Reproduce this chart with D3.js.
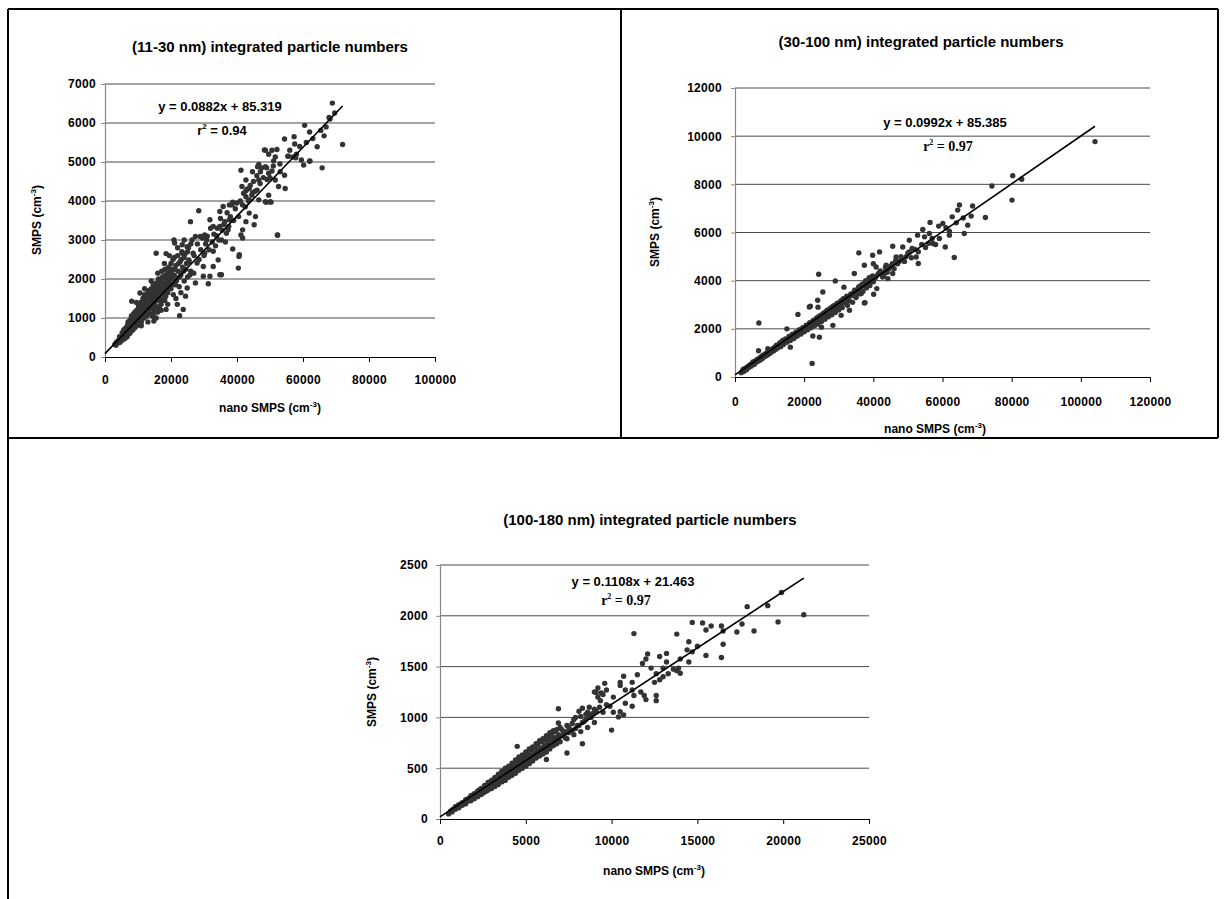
<!DOCTYPE html>
<html>
<head>
<meta charset="utf-8">
<script src="https://cdn.jsdelivr.net/npm/d3@7"></script>
<style>
  body { margin: 0; background: #fff; }
  text { font-family: "Liberation Sans", Arial, sans-serif; font-weight: bold; fill: #000; }
</style>
</head>
<body>
<svg id="chart" width="1225" height="899"></svg>
<script>
// ---- data ----
const titles = [
  "(11-30 nm) integrated particle numbers",
  "(30-100 nm) integrated particle numbers",
  "(100-180 nm) integrated particle numbers"
];
const equations = ["y = 0.0882x + 85.319", "y = 0.0992x + 85.385", "y = 0.1108x + 21.463"];
const slopes = [0.0882, 0.0992, 0.1108];
const intercepts = [85.319, 85.385, 21.463];
const rSquared = ["0.94", "0.97", "0.97"];

const xTicks1 = [0, 20000, 40000, 60000, 80000, 100000];
const yTicks1 = [0, 1000, 2000, 3000, 4000, 5000, 6000, 7000];
const xTicks2 = [0, 20000, 40000, 60000, 80000, 100000, 120000];
const yTicks2 = [0, 2000, 4000, 6000, 8000, 10000, 12000];
const xTicks3 = [0, 5000, 10000, 15000, 20000, 25000];
const yTicks3 = [0, 500, 1000, 1500, 2000, 2500];

// (11-30 nm): [nano SMPS, SMPS]
const points1 = [
  [68900,6510],[69600,6255],[67900,6140],[68200,6100],[72000,5450],[60500,5940],[62000,5770],[65400,5810],
  [66400,5670],[64300,5390],[65800,4850],[62000,5020],[60200,4920],[59500,5050],[57300,5650],[54400,5590],
  [57500,5460],[57000,5130],[54600,4320],[52600,4370],[55600,5150],[52300,3130],[48600,5300],[50600,5300],
  [52100,5320],[51600,5130],[49600,5200],[51100,5030],[48600,4880],[46600,4940],[44700,4750],[47100,4750],
  [50600,4770],[53100,4750],[54400,4660],[49600,4710],[51600,4540],[49100,4550],[46600,4540],[41200,4790],
  [42700,4540],[41500,4370],[42700,4260],[43700,4320],[44700,4210],[46100,4280],[42700,4110],[43700,4030],
  [46600,4030],[48600,3980],[50100,3980],[49600,4150],[41700,3900],[38700,3970],[37700,3900],[35800,3860],
  [34800,3730],[28400,3750],[43700,3690],[42700,3470],[45200,3390],[41700,3260],[41200,3130],[41700,3050],
  [38700,2770],[40700,2620],[40400,2280],[37300,3260],[37700,3520],[36300,3470],[34800,3350],[36800,3170],
  [35300,3000],[33800,3110],[31800,3520],[32800,3350],[30200,3130],[30800,3000],[28900,3090],[27400,3090],
  [25900,3470],[26400,3000],[24900,2830],[23400,2880],[20900,3000],[21100,2920],[18500,2650],[15500,2660],
  [23400,2660],[26700,2660],[30200,2660],[32800,2710],[34300,2490],[32800,2320],[29800,2320],[27900,2410],
  [25400,2490],[26900,2150],[29800,2070],[31800,2070],[34800,2110],[35300,2110],[31300,1880],[27400,1900],
  [24900,1770],[24400,1560],[21900,1350],[23700,1220],[22600,1060],[18500,1220],[16000,1220],[17000,1350],
  [14500,1090],[15500,1000],[14800,920],[8100,1430],[10600,1640],
  [48300,5310],[55400,5150],[57800,5110],[62100,5030],[46250,4880],[48900,3970],[50300,3970],[45600,3600],
  [40600,2580],[52250,3120],
  [27000,2600],[28000,2900],[28500,2500],[29000,2750],[29500,3050],[30000,2600],[30500,2900],[31000,3100],
  [31500,2750],[32000,3300],[32500,2950],[33000,3150],[33500,2850],[34000,3300],[34500,3000],[35000,3550],
  [35500,3250],[36000,3400],[36500,2950],[37000,3700],[37500,3350],[38000,3600],[38500,3900],[39000,3500],
  [39500,3800],[40000,3950],[40500,3600],[41000,4000],[42000,4200],[42500,3850],[43000,4300],[43500,4000],
  [44000,4400],[44500,4150],[45000,4500],[45500,4250],[46000,4650],[47000,4450],[47500,4850],[48000,4600],
  [49000,4850],[50000,4600],[51000,4900],[53000,4950],[56000,5300],[58000,5200],[59000,5400],[61000,5500],
  [63000,5600],[67000,5900],
  [3000,330],[3500,380],[3800,350],[4000,420],[4200,400],[4500,460],[4800,430],[5000,520],[5200,480],
  [5500,560],[5600,470],[5800,600],[6000,540],[6200,650],[6300,580],[6500,700],[6600,620],[6800,560],
  [7000,750],[7000,900],[7200,680],[7400,820],[7500,600],[7600,950],[7800,720],[8000,850],[8000,1050],
  [8200,780],[8400,920],[8500,700],[8600,1100],[8800,830],[9000,960],[9000,1150],[9200,760],[9400,1050],
  [9500,880],[9500,1400],[9600,1200],[9800,980],[10000,1100],[10000,820],[10200,1300],[10300,940],[10500,1200],
  [10600,1050],[10800,1400],[11000,900],[11000,800],[11000,1150],[11200,1300],[11400,1050],[11500,1500],
  [11600,1250],[11800,1000],[12000,1350],[12000,1600],[12000,1750],[12200,1150],[12400,1450],[12500,1280],
  [12600,1050],[12800,1550],[13000,1350],[13000,1700],[13000,900],[13200,1200],[13400,1450],[13500,1620],
  [13600,1100],[13800,1300],[14000,1500],[14000,1750],[14000,1950],[14200,1250],[14400,1600],[14500,1400],
  [14600,1850],[14800,1150],[15000,1550],[15000,1350],[15000,1000],[15200,1700],[15400,1480],[15500,1900],
  [15600,1250],[15800,1650],[16000,1450],[16000,1800],[16000,2150],[16200,2000],[16400,1550],[16500,1300],
  [16700,1750],[17000,1600],[17000,1950],[17000,1200],[17200,2200],[17300,1450],[17500,1800],[17800,2050],
  [18000,1650],[18000,1900],[18000,2400],[18200,2250],[18400,1550],[18600,2000],[18800,1800],[19000,2150],
  [19000,1650],[19000,1350],[19300,2300],[19500,1900],[19500,2600],[19800,2100],[20000,1750],[20000,2400],
  [20300,2000],[20500,2250],[20700,1600],[21000,2100],[21000,2550],[21300,1850],[21500,2350],[21500,1500],
  [21800,2000],[22000,2600],[22000,2800],[22200,2200],[22500,1800],[22800,2450],[23000,2100],[23000,1650],
  [23300,2700],[23500,2300],[24000,1950],[24000,2550],[24000,3000],[24500,2250],[25000,2700],[25000,2050],
  [25500,2450],[26000,2200],[26000,2900],
  [3300,300],[4400,520],[4600,380],[5200,620],[5400,440],[5700,700],[6100,480],[6400,760],[6700,520],
  [6900,830],[7300,620],[7700,860],[7900,660],[8300,980],[8700,760],[8900,1020],[9300,900],[9700,1100],
  [9900,860],[10100,1200],[10400,1000],[10700,1300],[10900,1000],[11300,1400],[11700,1150],[11900,1300],
  [12300,1050],[12700,1400],[12900,1200],[13300,1550],[13700,1350],[13900,1600],[14300,1050],[14700,1700],
  [14900,1300],[15300,1800],[15700,1500],[15900,1150],[16300,1700],[16600,1900],[16900,1500],[17400,2050],
  [17700,1700],[18100,1450],[18300,2100],[18700,1900],[19100,2000],[19400,1750],[19700,2250],[20100,2150],
  [20400,1850],[20600,2500],[21200,2250],[21600,1950],[22300,2400],[22600,2050],[23100,2500],[23800,2200],
  [24300,2650],[24700,2400],[25300,2800],[25700,2100]
];

// (30-100 nm)
const points2 = [
  [104100,9775],[80300,8360],[82900,8210],[80100,7345],[74300,7930],[72400,6625],[68700,7100],[68300,6680],
  [67300,6305],[66300,5960],[64900,7140],[64400,6930],[62800,6650],[62000,5890],[63400,4960],[60800,5400],
  [60100,6375],[58900,6265],[56400,6420],[57200,5545],[55100,5380],[54800,5820],[52800,5890],[53000,4710],
  [51200,5335],[50400,5680],[48500,5400],[45600,5430],[46600,4985],[43700,4640],[41800,5195],[39800,5055],
  [35800,5155],[37400,4640],[40800,4570],[42700,4155],[45600,4295],[37700,3880],[37600,3090],[36500,3465],
  [34500,4295],[29000,3990],[24200,4265],[23900,3185],[25400,3530],[21500,2905],[24400,1655],[22500,1700],
  [6900,2240],[22300,565],[56200,5960],[54300,6125],[50400,5195],[52400,4985],[59100,5750],[28300,2145],
  [30700,2560],[33100,2770],[37400,3070],[40100,3435],[44200,4085],[18200,2600],[21800,2935],[6800,1090],
  [1800,180],[2200,260],[2600,240],[3000,350],[3300,300],[3600,420],[4000,390],[4300,500],[4600,450],
  [5000,560],[5200,620],[5500,520],[5800,660],[6000,600],[6300,720],[6600,650],[7000,780],[7200,700],
  [7500,820],[7800,760],[8000,900],[8300,820],[8600,940],[8900,870],[9200,1000],[9500,1170],[9500,920],
  [9800,1050],[10000,980],[10300,1120],[10600,1040],[11000,1180],[11200,1090],[11500,1240],[11800,1150],
  [12000,1320],[12300,1200],[12600,1290],[13000,1420],[13200,1260],[13500,1380],[13800,1520],[14000,1350],
  [14300,1460],[14600,1580],[15000,1440],[15000,2000],[15300,1560],[15600,1680],[16000,1240],[16000,1520],
  [16300,1640],[16600,1780],[17000,1600],[17300,1720],[17600,1860],[18000,1700],[18300,1820],[18600,1960],
  [19000,1780],[19300,1900],[19600,2050],[20000,1880],[20300,2000],[20600,2150],[21000,1960],[21300,2080],
  [21600,2250],[22000,2050],[22300,2180],[22600,2350],[23000,2130],[23300,2270],[23600,2450],[24000,2200],
  [24000,2900],[24300,2380],[24600,2550],[25000,2070],[25000,2300],[25300,2480],[25600,2650],[26000,2400],
  [26300,2580],[26600,2760],[27000,2500],[27300,2680],[27600,2860],[28000,2580],[28300,2780],[28600,2960],
  [29000,2680],[29300,2880],[29600,3060],[30000,2780],[30300,2980],[30600,3160],[31000,2880],[31500,3730],
  [31500,3080],[32000,3260],[32500,2980],[33000,3180],[33300,3380],[34000,3100],[34300,3500],[35000,3300],
  [35500,3650],[36000,3450],[36500,3800],[37000,3550],[37500,3900],[38000,3700],[38500,4000],[39000,3800],
  [39500,4150],[40000,3950],[40000,4700],[41000,3670],[41000,4200],[42000,4400],[43000,4200],[43500,4550],
  [44000,4350],[45000,4600],[46000,4500],[46500,4850],[47000,4700],[48000,5000],[49000,4800],[50000,5150],
  [51000,4950],[52000,5300],[53000,5200],[54000,5500],[56000,5550],[57000,5750],[58000,5500],[61000,6200],
  [62000,6050],[64000,6400],[66000,6600],
  [2400,320],[2800,300],[3200,380],[3800,440],[4400,470],[4800,540],[5400,590],[5600,610],[6200,640],
  [6400,700],[6800,740],[7400,760],[7600,840],[8200,880],[8800,960],[9000,900],[9400,1010],[9600,980],
  [10400,1080],[10800,1140],[11300,1200],[11700,1220],[12200,1280],[12800,1350],[13300,1340],[13600,1460],
  [14100,1420],[14500,1500],[14800,1520],[15200,1480],[15800,1600],[16200,1700],[16800,1700],[17200,1650],
  [17800,1800],[18200,1760],[18800,1880],[19200,1850],[19800,2000],[20200,1950],[20800,2100],[21200,2050],
  [21800,2160],[22200,2250],[22800,2280],[23200,2380],[23800,2350],[24200,2500],[24800,2460],[25200,2600],
  [25800,2560],[26200,2700],[26800,2650],[27200,2800],[27800,2750],[28200,2920],[28800,2860],[29200,3000],
  [29800,2960],[30400,3100],[30800,3040],[31300,3250],[31800,3160],[32300,3350],[32800,3300],[33500,3450],
  [34000,3380],[34600,3600],[35200,3520],[35800,3750],[36300,3620],[36800,3850],[37300,3780],[37800,4000],
  [38300,3880],[38800,4120],[39300,3980],[39800,4200],[40500,4100],[41500,4300],[42500,4250],[43200,4350],
  [44500,4500],[45500,4700],[47500,4800],[49500,5000]
];

// (100-180 nm)
const points3 = [
  [21200,2010],[19900,2230],[19700,1940],[19100,2100],[17900,2090],[17600,1920],[17300,1840],[18300,1850],
  [16400,1900],[16500,1850],[16500,1720],[16400,1590],[15500,1610],[15800,1900],[15500,1860],[15300,1930],
  [14700,1935],[15000,1700],[14700,1645],[14400,1665],[14500,1745],[13800,1820],[11300,1825],[14500,1545],
  [14000,1575],[13900,1485],[14000,1435],[13800,1460],[13600,1475],[13200,1630],[12800,1600],[13200,1545],
  [13000,1485],[13300,1430],[13000,1400],[12800,1370],[12500,1345],[12600,1430],[12300,1485],[12100,1625],
  [12000,1575],[11800,1530],[11500,1420],[11200,1345],[10700,1405],[10500,1345],[10500,1315],[10800,1270],
  [11200,1270],[11700,1250],[11900,1215],[12600,1215],[12600,1165],[12000,1175],[11300,1215],[11200,1110],
  [10800,1140],[10500,1055],[10700,1025],[10400,1005],[10100,1050],[9900,1110],[9700,1125],[10100,1200],
  [9600,1335],[9200,1290],[9400,1240],[9000,1250],[9200,1200],[9700,1270],[6900,1085],[10000,875],
  [8300,740],[7400,650],[6900,945],[4500,715],[9350,1165],[9100,1245],[9500,1225],[6200,585],
  [500,50],[600,75],[700,70],[800,100],[900,95],[1000,125],[1100,110],[1200,145],[1300,135],[1400,165],
  [1500,150],[1500,190],[1600,175],[1700,205],[1800,180],[1800,230],[1900,210],[2000,250],[2000,200],
  [2100,235],[2200,275],[2200,220],[2300,260],[2400,300],[2400,240],[2500,280],[2600,330],[2600,265],
  [2700,300],[2800,360],[2800,285],[2900,330],[3000,380],[3000,300],[3100,350],[3200,410],[3200,320],
  [3300,370],[3400,440],[3400,340],[3500,400],[3600,470],[3600,365],[3700,420],[3800,500],[3800,380],
  [3900,450],[4000,520],[4000,410],[4100,470],[4200,550],[4200,430],[4300,500],[4400,580],[4400,450],
  [4500,520],[4600,610],[4600,480],[4700,550],[4800,630],[4800,500],[4900,580],[5000,660],[5000,520],
  [5100,600],[5200,690],[5200,545],[5300,630],[5400,710],[5400,570],[5500,650],[5600,740],[5600,600],
  [5700,680],[5800,770],[5800,620],[5900,700],[6000,790],[6000,640],[6100,730],[6200,820],[6200,660],
  [6300,750],[6400,850],[6400,690],[6500,780],[6600,870],[6600,720],[6700,800],[6800,880],[6800,740],
  [6900,830],[7000,900],[7000,760],[7200,850],[7400,920],[7400,790],[7600,880],[7800,980],[7800,830],
  [8000,920],[8200,1010],[8200,860],[8400,960],[8600,1050],[8600,900],[8800,1000],[9000,1080],[9000,950],
  [700,90],[900,120],[1100,140],[1300,160],[1600,195],[1700,185],[1900,235],[2100,255],[2300,240],[2300,285],
  [2500,300],[2500,255],[2700,330],[2700,275],[2900,300],[2900,360],[3100,325],[3100,385],[3300,345],[3300,400],
  [3500,375],[3500,430],[3700,395],[3700,455],[3900,420],[3900,490],[4100,440],[4100,510],[4300,470],[4300,540],
  [4500,490],[4500,560],[4700,510],[4700,590],[4900,540],[4900,610],[5100,560],[5100,640],[5300,590],[5300,680],
  [5500,610],[5500,700],[5700,630],[5700,730],[5900,660],[5900,760],[6100,690],[6100,780],[6300,710],[6300,800],
  [6500,730],[6500,830],[6700,750],[6700,860],[6900,780],[6900,800],[7100,820],[7100,880],[7300,800],[7300,860],
  [7500,850],[7500,900],[7700,870],[7700,940],[7900,890],[7900,1000],[8100,920],[8100,1060],[8300,950],[8300,1090],
  [8500,980],[8500,1030],[8700,1020],[8700,1100],[8900,1040],[9100,1060],[9300,1100],[9500,1050]
];

// ---- layout (pixels) ----
const panels = [
  { pts: points1, xt: xTicks1, yt: yTicks1, left: 105, right: 435, bottom: 357, top: 84,
    titleX: 270, titleY: 52, eqX: 220, eqY: 111, r2X: 222, r2Y: 135, r2Serif: false, xPad: 13.5, yPad: 5,
    xTitleX: 270, xTitleY: 412, yTitleX: 41, yTitleY: 220 },
  { pts: points2, xt: xTicks2, yt: yTicks2, left: 735, right: 1150, bottom: 377, top: 88,
    titleX: 921, titleY: 47, eqX: 945, eqY: 127, r2X: 948, r2Y: 151, r2Serif: true, xPad: 15.5, yPad: 9,
    xTitleX: 935, xTitleY: 433, yTitleX: 659, yTitleY: 232 },
  { pts: points3, xt: xTicks3, yt: yTicks3, left: 440, right: 869, bottom: 819, top: 565,
    titleX: 650, titleY: 525, eqX: 633, eqY: 586, r2X: 626, r2Y: 605, r2Serif: true, xPad: 12.5, yPad: 8,
    xTitleX: 654, xTitleY: 875, yTitleX: 376, yTitleY: 692 }
];

const svg = d3.select("#chart");

// frame lines
const frame = svg.append("g").attr("stroke", "#000").attr("stroke-width", 2);
frame.append("line").attr("x1", 8).attr("y1", 9).attr("x2", 1218).attr("y2", 9);
frame.append("line").attr("x1", 8).attr("y1", 9).attr("x2", 8).attr("y2", 899);
frame.append("line").attr("x1", 621).attr("y1", 9).attr("x2", 621).attr("y2", 438);
frame.append("line").attr("x1", 1218).attr("y1", 9).attr("x2", 1218).attr("y2", 438);
frame.append("line").attr("x1", 8).attr("y1", 438).attr("x2", 1218).attr("y2", 438);

panels.forEach((p, i) => {
  const x = d3.scaleLinear().domain([p.xt[0], p.xt[p.xt.length - 1]]).range([p.left, p.right]);
  const y = d3.scaleLinear().domain([p.yt[0], p.yt[p.yt.length - 1]]).range([p.bottom, p.top]);
  const g = svg.append("g");

  // gridlines
  g.selectAll(".grid").data(p.yt.slice(1)).join("line")
    .attr("x1", p.left).attr("x2", p.right)
    .attr("y1", d => y(d)).attr("y2", d => y(d))
    .attr("stroke", "#4a4a4a").attr("stroke-width", 1);

  // y axis
  const ya = g.append("g").attr("transform", `translate(${p.left},0)`)
    .call(d3.axisLeft(y).tickValues(p.yt).tickSize(4).tickSizeOuter(0).tickPadding(p.yPad).tickFormat(d3.format("d")));
  ya.select(".domain").attr("stroke", "#888").attr("stroke-width", 1.2);
  ya.selectAll(".tick line").attr("stroke", "#888");
  ya.selectAll("text").attr("font-size", 12).attr("font-family", null).attr("letter-spacing", 0.3);

  // x axis
  const xa = g.append("g").attr("transform", `translate(0,${p.bottom})`)
    .call(d3.axisBottom(x).tickValues(p.xt).tickSize(5).tickSizeOuter(0).tickPadding(p.xPad).tickFormat(d3.format("d")));
  xa.select(".domain").attr("stroke", "#000").attr("stroke-width", 1.2);
  xa.selectAll(".tick line").attr("stroke", "#000");
  xa.selectAll("text").attr("font-size", 12).attr("font-family", null).attr("letter-spacing", 0.3);

  // points
  g.selectAll(".pt").data(p.pts).join("circle")
    .attr("cx", d => x(d[0])).attr("cy", d => y(d[1]))
    .attr("r", 2.7).attr("fill", "#333");

  // regression line
  const xmax = d3.max(p.pts, d => d[0]);
  g.append("line")
    .attr("x1", x(0)).attr("y1", y(intercepts[i]))
    .attr("x2", x(xmax)).attr("y2", y(slopes[i] * xmax + intercepts[i]))
    .attr("stroke", "#000").attr("stroke-width", 1.6);

  // title
  g.append("text").attr("x", p.titleX).attr("y", p.titleY)
    .attr("text-anchor", "middle").attr("font-size", 15)
    .text(titles[i]);

  // equation
  g.append("text").attr("x", p.eqX).attr("y", p.eqY).attr("text-anchor", "middle")
    .attr("font-size", 13).text(equations[i]);

  const r2 = g.append("text").attr("x", p.r2X).attr("y", p.r2Y).attr("text-anchor", "middle")
    .attr("font-size", p.r2Serif ? 14 : 13);
  if (p.r2Serif) r2.style("font-family", "'Liberation Serif', 'Times New Roman', serif");
  r2.append("tspan").text("r");
  r2.append("tspan").attr("dy", -6).attr("font-size", 8).text("2");
  r2.append("tspan").attr("dy", 6).text(" = " + rSquared[i]);

  // x title
  const xt = g.append("text").attr("x", p.xTitleX).attr("y", p.xTitleY)
    .attr("text-anchor", "middle").attr("font-size", 12);
  xt.append("tspan").text("nano SMPS (cm");
  xt.append("tspan").attr("dy", -5).attr("font-size", 8).text("-3");
  xt.append("tspan").attr("dy", 5).text(")");

  // y title
  const yt = g.append("text")
    .attr("transform", `translate(${p.yTitleX},${p.yTitleY}) rotate(-90)`)
    .attr("text-anchor", "middle").attr("font-size", 12);
  yt.append("tspan").text("SMPS (cm");
  yt.append("tspan").attr("dy", -5).attr("font-size", 8).text("-3");
  yt.append("tspan").attr("dy", 5).text(")");
});
</script>
</body>
</html>
